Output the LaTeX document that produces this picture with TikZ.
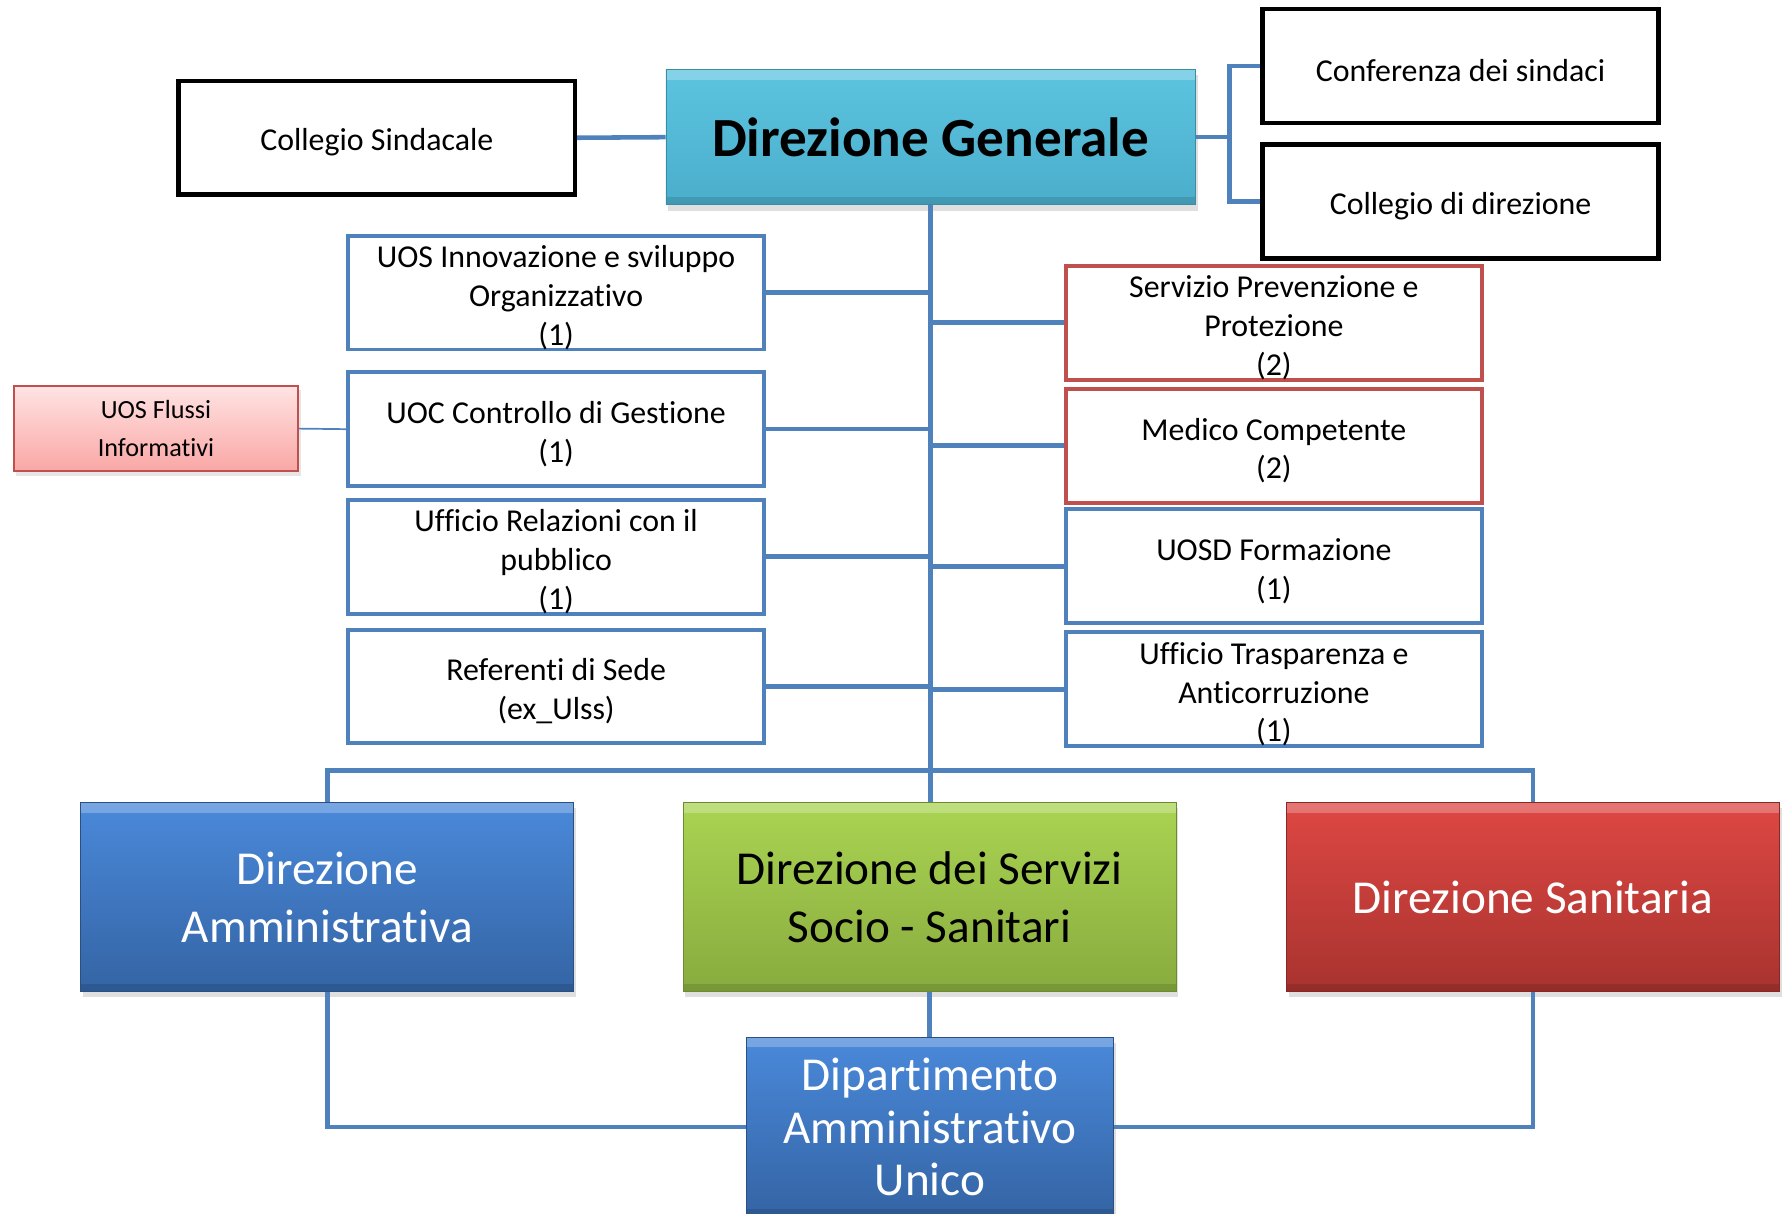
\documentclass[tikz,border=0pt]{standalone}
\usepackage{fontspec}
\setmainfont{Carlito}[Ligatures={NoCommon}]
\usepackage{tikz}
\usetikzlibrary{shadows}
\definecolor{link}{HTML}{4F81BD}
\definecolor{redline}{HTML}{C0504D}
\definecolor{aquatop}{HTML}{5CC4E0}
\definecolor{aquabot}{HTML}{4AAECB}
\definecolor{bluetop}{HTML}{4A89DA}
\definecolor{bluebot}{HTML}{3464A4}
\definecolor{greentop}{HTML}{AAD452}
\definecolor{greenbot}{HTML}{88AB3E}
\definecolor{redtop}{HTML}{DE4743}
\definecolor{redbot}{HTML}{A8332F}
\definecolor{pinktop}{HTML}{FFE3E3}
\definecolor{pinkbot}{HTML}{F9A7A5}
\newcommand\boxfont{\fontsize{28}{34}\selectfont}
\newcommand\smallboxfont{\fontsize{23}{34}\selectfont}
\newcommand\bigfont{\fontsize{41.5}{51}\selectfont}
\newcommand\dipfont{\fontsize{41.5}{46}\selectfont}
\newcommand\topstrut{\rule{0pt}{28pt}}
\tikzset{
  conn/.style={draw=link, line width=4pt},
  connthin/.style={draw=link, line width=1.5pt},
  box/.style={rectangle, minimum width=365pt, minimum height=100pt, inner sep=0pt,
    align=center, font=\boxfont, fill=white},
  bluebox/.style={box, draw=link, line width=3.5pt},
  redbox/.style={box, draw=redline, line width=3.5pt},
  blackbox/.style={box, draw=black, line width=4pt, minimum width=348pt},
  bevel/.style n args={2}{rectangle, inner sep=0pt, align=center,
    top color=#1, bottom color=#2, draw=#2!80!black, line width=0.8pt,
    drop shadow={opacity=0.25, shadow xshift=2pt, shadow yshift=-5pt},
    path picture={
      \fill[white, opacity=0.25] (path picture bounding box.north west)
        rectangle ([yshift=-9pt]path picture bounding box.north east);
      \fill[black, opacity=0.12] (path picture bounding box.south west)
        rectangle ([yshift=7pt]path picture bounding box.south east);}},
  dirbox/.style={minimum width=433pt, minimum height=166pt, font=\bigfont},
  flussi/.style={rectangle, minimum width=250pt, minimum height=75pt, inner sep=0pt,
    align=center, font=\smallboxfont, top color=pinktop, bottom color=pinkbot,
    draw=redline, line width=1.5pt,
    drop shadow={opacity=0.2, shadow xshift=2pt, shadow yshift=-4pt}},
}
\begin{document}
\begin{tikzpicture}[x=1pt,y=-1pt]
  \useasboundingbox (0,0) rectangle (1568,1066);
  % top level
  \node[bevel={aquatop}{aquabot}, minimum width=465pt, minimum height=119pt,
    font=\fontsize{48.5}{58}\selectfont\bfseries] (dg) at (817.5,120.5) {Direzione Generale};
  \node[blackbox] (cs) at (331,121) {\topstrut Collegio Sindacale};
  \node[blackbox] (conf) at (1283,58) {\topstrut Conferenza dei sindaci};
  \node[blackbox] (cdir) at (1283,177) {\topstrut Collegio di direzione};
  % staff units
  \node[bluebox] (uosinn) at (488.5,257) {\topstrut UOS Innovazione e sviluppo\\Organizzativo\\(1)};
  \node[bluebox] (uoc) at (488.5,377) {\topstrut UOC Controllo di Gestione\\(1)};
  \node[bluebox] (urp) at (488.5,489) {\topstrut Ufficio Relazioni con il\\pubblico\\(1)};
  \node[bluebox] (ref) at (488.5,603) {\topstrut Referenti di Sede\\(ex\_Ulss)};
  \node[flussi] (flussi) at (137,376.5) {UOS Flussi\\Informativi};
  \node[redbox] (spp) at (1119,283.5) {\topstrut Servizio Prevenzione e\\Protezione\\(2)};
  \node[redbox] (medico) at (1119,391.5) {\topstrut Medico Competente\\(2)};
  \node[bluebox] (uosd) at (1119,497.5) {\topstrut UOSD Formazione\\(1)};
  \node[bluebox] (trasp) at (1119,605.5) {\topstrut Ufficio Trasparenza e\\Anticorruzione\\(1)};
  % directions
  \node[bevel={bluetop}{bluebot}, dirbox, text=white] (damm) at (287.5,788) {Direzione\\Amministrativa};
  \node[bevel={greentop}{greenbot}, dirbox] (dss) at (816.5,788) {Direzione dei Servizi\\Socio - Sanitari};
  \node[bevel={redtop}{redbot}, dirbox, text=white] (dsan) at (1346.5,788) {Direzione Sanitaria};
  \node[bevel={bluetop}{bluebot}, minimum width=322pt, minimum height=158pt,
    font=\dipfont, text=white] (dip) at (817,990) {Dipartimento\\Amministrativo\\Unico};
  % connectors
  \coordinate (fork) at (1080,0);
  \coordinate (bar) at (0,677);
  \draw[conn] (cs.east) -- (dg.west);
  \draw[conn] (dg.east) -- (dg.east -| fork);
  \draw[conn] (conf.west) -- (conf.west -| fork) -- (cdir.west -| fork) -- (cdir.west);
  \draw[conn] (dg.south) -- (dg.south |- dss.north);
  \foreach \n in {uosinn,uoc,urp,ref}
    \draw[conn] (\n.east) -- (\n.east -| dg.south);
  \foreach \n in {spp,medico,uosd,trasp}
    \draw[conn] (\n.west) -- (\n.west -| dg.south);
  \draw[connthin] (flussi.east) -- (uoc.west);
  \draw[conn] (damm.north) -- (damm.north |- bar) -- (dsan.north |- bar) -- (dsan.north);
  \draw[conn] (damm.south) |- (dip.west);
  \draw[conn] (dsan.south) |- (dip.east);
  \draw[conn] (dss.south) -- (dss.south |- dip.north);
\end{tikzpicture}
\end{document}
